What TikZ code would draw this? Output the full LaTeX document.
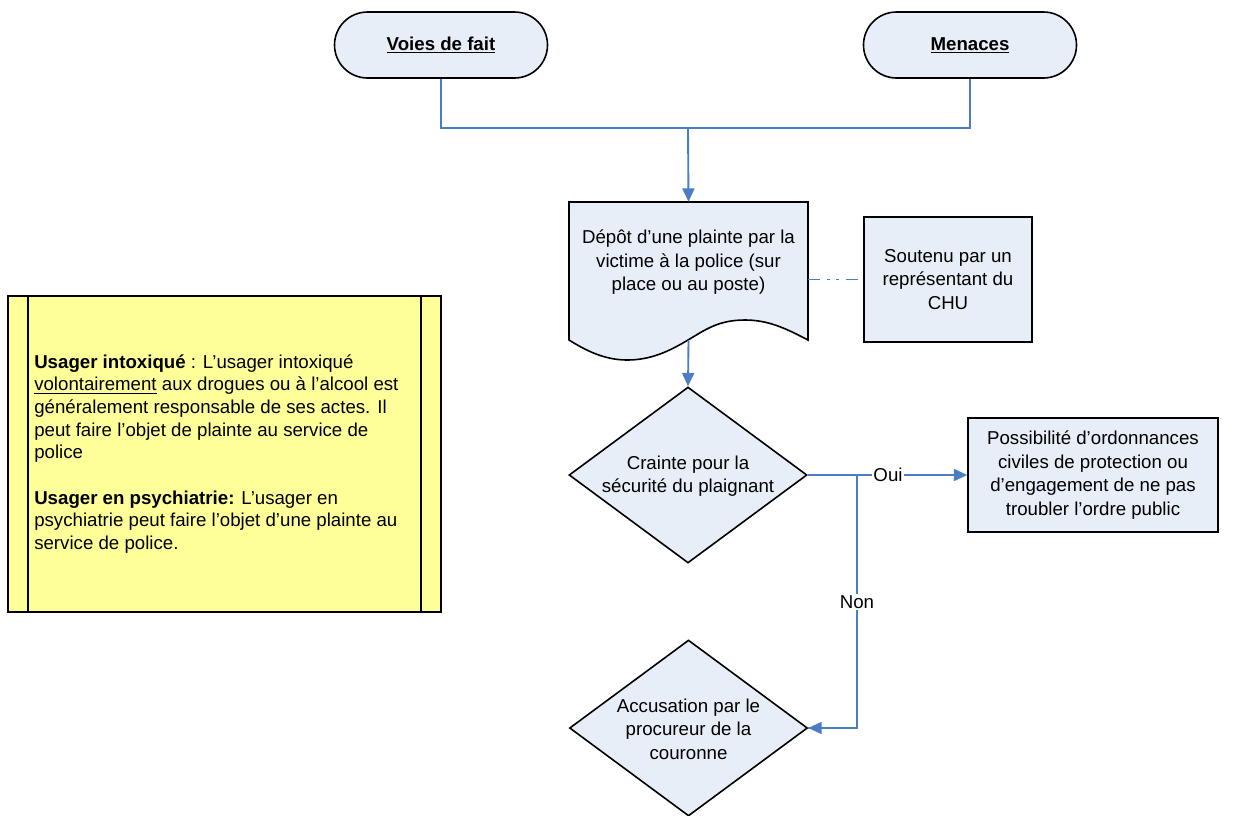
\documentclass[tikz,border=0pt]{standalone}
\usepackage{fontspec}
\setmainfont{Liberation Sans}
\usetikzlibrary{shapes.geometric,arrows.meta,calc}
\definecolor{boxfill}{HTML}{E8EEF7}
\definecolor{linkblue}{HTML}{4A7DC4}
\definecolor{notefill}{HTML}{FFFF99}
\tikzset{
  basefont/.style={font=\fontsize{14}{17.6}\selectfont},
  term/.style={draw=black, line width=1.2pt, fill=boxfill, rectangle, rounded corners=24.75pt,
    minimum width=159.75pt, minimum height=49.5pt, basefont},
  procbox/.style={draw=black, line width=1.2pt, fill=boxfill, rectangle, align=center, basefont},
  dia/.style={draw=black, line width=1.2pt, fill=boxfill, diamond, inner sep=0pt,
    minimum width=178.5pt, minimum height=132pt},
  txt/.style={align=center, basefont, inner sep=0pt},
  conn/.style={draw=linkblue, line width=1.4pt},
  arr/.style={conn, -{Triangle[width=9pt,length=10pt]}},
  lbl/.style={fill=white, inner sep=1pt, basefont},
}
\begin{document}
\begin{tikzpicture}[x=0.75pt,y=-0.75pt]
\useasboundingbox (0,0) rectangle (1235,815);

% terminators
\node[term] (voies) at (441,45) {\textbf{\underline{Voies de fait}}};
\node[term] (menaces) at (970,45) {\textbf{\underline{Menaces}}};

% document shape
\node[minimum width=179.25pt, minimum height=103.5pt, inner sep=0pt] (doc) at (688.5,271) {};
\draw[line width=1.2pt, fill=boxfill] (569,202) -- (808,202) -- (808,340)
  .. controls (785,328) and (768,320) .. (745,320)
  .. controls (718,320) and (705,330) .. (688,340)
  .. controls (668,352) and (650,360) .. (627,360)
  .. controls (604,360) and (585,350) .. (569,340) -- cycle;
\node[txt] (doctext) at (688.5,262.5) {Dépôt d’une plainte par la\\victime à la police (sur\\place ou au poste)};

% supporting box
\node[procbox, minimum width=126pt, minimum height=93.75pt] (soutenu) at (948,279.5)
  {Soutenu par un\\représentant du\\CHU};

% decisions
\node[dia] (crainte) at (688,475) {};
\node[txt] at (688,476) {Crainte pour la\\sécurité du plaignant};
\node[dia] (accus) at (688.5,728) {};
\node[txt] at (688.5,729) {Accusation par le\\procureur de la\\couronne};

% possibility box
\node[procbox, minimum width=187.5pt, minimum height=85.5pt] (poss) at (1093,475)
  {Possibilité d’ordonnances\\civiles de protection ou\\d’engagement de ne pas\\troubler l’ordre public};

% note box
\node[draw=black, line width=1.2pt, fill=notefill, rectangle, minimum width=324.75pt, minimum height=237pt, inner sep=0pt] (note) at (224.5,454) {};
\draw[line width=1.2pt] ($(note.north west)+(21,0)$) -- ($(note.south west)+(21,0)$);
\draw[line width=1.2pt] ($(note.north east)+(-21,0)$) -- ($(note.south east)+(-21,0)$);
\node[anchor=west, align=left, inner sep=0pt, font=\fontsize{14}{17}\selectfont] (notetext) at (34,454)
  {\textbf{Usager intoxiqué} : L’usager intoxiqué\\
   \underline{volontairement} aux drogues ou à l’alcool est\\
   généralement responsable de ses actes. Il\\
   peut faire l’objet de plainte au service de\\
   police\\[17pt]
   \textbf{Usager en psychiatrie:} L’usager en\\
   psychiatrie peut faire l’objet d’une plainte au\\
   service de police.};

% connectors
\coordinate (jt) at (688,128);
\draw[conn] (voies.south) |- (jt) -| (menaces.south);
\draw[arr] (jt) -- (doc.north);
\draw[arr] (doc.south) -- (crainte.north);
\draw[conn, dash pattern=on 9pt off 5pt on 2pt off 5pt on 2pt off 5pt]
  (soutenu.west -| doc.east) -- (soutenu.west);
\coordinate (jn) at (857,475);
\draw[arr] (crainte.east) -- (poss.west);
\draw[conn] (jn) |- (accus.east);
\draw[arr] (jn |- accus.east) -- (accus.east);
\node[lbl] (oui) at (888,475) {Oui};
\node[lbl] (non) at (857,602) {Non};
\end{tikzpicture}
\end{document}
